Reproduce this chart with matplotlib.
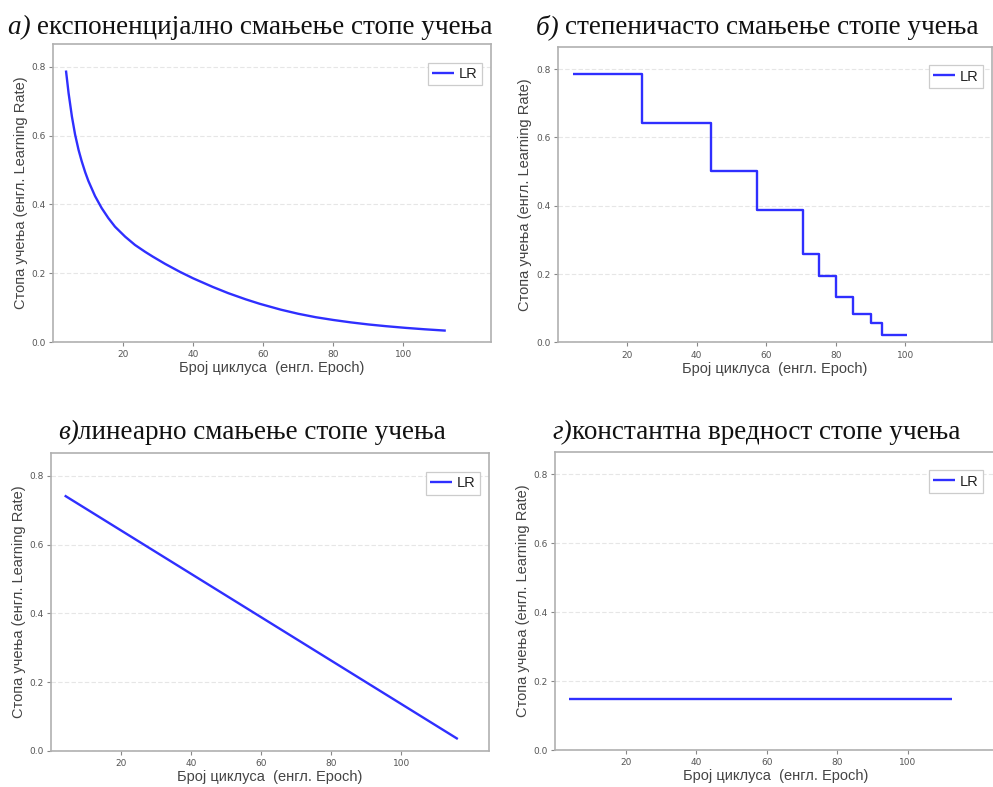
import matplotlib
matplotlib.use("Agg")
import matplotlib.pyplot as plt
from matplotlib.offsetbox import TextArea, HPacker, AnnotationBbox

# ---------------- data ----------------
exp_epochs = [3.7, 4.45, 5.4, 6.3, 7.3, 8.2, 9.2, 10.1, 12.0, 13.9, 15.8, 17.7, 20.6,
              23.4, 26.3, 28.5, 32, 36.2, 40, 45.6, 50, 55, 59, 65, 70, 75, 80, 85,
              90, 95, 100.7, 106, 112.1]
exp_lr = [0.789, 0.723, 0.655, 0.603, 0.558, 0.525, 0.493, 0.468, 0.424, 0.389, 0.360,
          0.335, 0.306, 0.282, 0.262, 0.248, 0.227, 0.204, 0.185, 0.160, 0.142, 0.124,
          0.111, 0.094, 0.082, 0.072, 0.064, 0.057, 0.051, 0.046, 0.041, 0.037, 0.033]

step_epochs = [4.3, 24.3, 44.1, 57.3, 70.5, 75.3, 80.2, 84.9, 90.3, 93.2, 100.6]
step_lr = [0.786, 0.642, 0.502, 0.387, 0.258, 0.195, 0.134, 0.083, 0.056, 0.021, 0.021]

lin_epochs = [3.9, 116.1]
lin_lr = [0.743, 0.034]

const_epochs = [4.0, 112.6]
const_lr = [0.147, 0.147]

xticks = [20, 40, 60, 80, 100]
yticks = [0.0, 0.2, 0.4, 0.6, 0.8]

titles = [("а) ", "експоненцијално смањење стопе учења"),
          ("б) ", "степеничасто смањење стопе учења"),
          ("в)", "линеарно смањење стопе учења"),
          ("г)", "константна вредност стопе учења")]

ylabel = "Стопа учења (енгл. Learning Rate)"
xlabel = "Број циклуса  (енгл. Epoch)"
legend_label = "LR"

# ---------------- layout ----------------
W, H = 993, 787
fig = plt.figure(figsize=(W / 100, H / 100), dpi=100)
fig.patch.set_facecolor("white")

# (left, top, right, bottom) in pixels
boxes = [(53, 44, 491, 342),
         (557.7, 46.7, 992, 342.3),
         (51, 453.3, 489, 750.7),
         (555, 451.7, 996, 750)]
title_pos = [(250, 27.5), (757, 27), (252, 432.5), (756, 432.5)]

LINE_COLOR = "#2f2fff"
SPINE = "#b0b0b0"

series = [(exp_epochs, exp_lr, "default"),
          (step_epochs, step_lr, "steps-post"),
          (lin_epochs, lin_lr, "default"),
          (const_epochs, const_lr, "default")]

for i, (l, t, r, b) in enumerate(boxes):
    ax = fig.add_axes([l / W, (H - b) / H, (r - l) / W, (b - t) / H])
    xs, ys, ds = series[i]
    ax.plot(xs, ys, color=LINE_COLOR, lw=1.7, drawstyle=ds, label=legend_label,
            solid_capstyle="butt", solid_joinstyle="round")
    ax.set_xlim(0, 125)
    ax.set_ylim(0, 0.866)
    ax.set_xticks(xticks)
    ax.set_yticks(yticks)
    ax.set_yticklabels([f"{v:.1f}" for v in yticks])
    ax.grid(axis="y", color="#e6e6e6", linestyle=(0, (4, 2)), lw=0.8)
    ax.set_axisbelow(True)
    for s in ax.spines.values():
        s.set_color(SPINE)
        s.set_linewidth(1.2)
    ax.tick_params(axis="both", labelsize=6.5, labelcolor="#555555", color="#888888",
                   length=3, width=0.8, direction="out")
    ax.tick_params(axis="x", pad=3)
    ax.tick_params(axis="y", pad=2)
    ax.set_ylabel(ylabel, fontsize=10.5, color="#444444", family="Liberation Sans")
    ax.set_xlabel(xlabel, fontsize=10.5, color="#444444", family="Liberation Sans")
    ax.yaxis.label.set_va("center")
    ax.xaxis.label.set_va("center")
    ax.yaxis.set_label_coords(-32.3 / (r - l), 0.5)
    ax.xaxis.set_label_coords(0.5, -26.3 / (b - t))
    rgt = min(r, 992)
    leg = ax.legend(loc="upper right",
                    bbox_to_anchor=((rgt - 9 - l) / (r - l), 1 - 18.5 / (b - t)),
                    borderaxespad=0, fancybox=False, framealpha=1,
                    edgecolor="#cccccc", handlelength=1.5, handletextpad=0.35,
                    borderpad=0.3, prop={"family": "Liberation Sans", "size": 10.5})
    leg.get_frame().set_linewidth(0.9)
    for txt in leg.get_texts():
        txt.set_color("#222222")

    # title with italic prefix
    pre, rest = titles[i]
    tp = dict(family="Liberation Serif", size=19.5, color="#111111")
    pack = HPacker(children=[TextArea(pre, textprops=dict(tp, style="italic")),
                             TextArea(rest, textprops=tp)],
                   pad=0, sep=0, align="baseline")
    tx, ty = title_pos[i]
    ab = AnnotationBbox(pack, (tx / W, 1 - ty / H), xycoords="figure fraction",
                        box_alignment=(0.5, 0.5), frameon=False, pad=0,
                        annotation_clip=False)
    fig.add_artist(ab)

fig.savefig("out.png", dpi=100, facecolor="white")
